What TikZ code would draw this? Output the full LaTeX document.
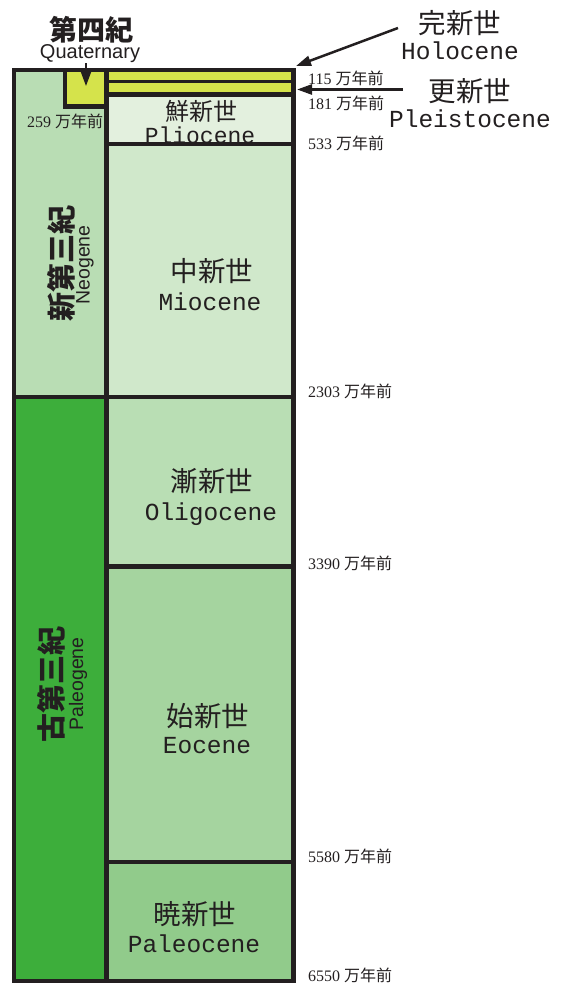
\documentclass[tikz,border=0pt]{standalone}
\usepackage{fontspec}
\setmainfont{Liberation Serif}
\setsansfont{Liberation Sans}
\newfontfamily\cjkf{Noto Sans CJK JP}
\newfontfamily\monofnt{Liberation Mono}
\usetikzlibrary{arrows.meta}
\definecolor{ink}{HTML}{231F20}
\definecolor{cQua}{HTML}{D5E34B}
\definecolor{cPlio}{HTML}{E3F0DE}
\definecolor{cMio}{HTML}{D0E8CB}
\definecolor{cOli}{HTML}{B9DEB4}
\definecolor{cEo}{HTML}{A5D49F}
\definecolor{cPaleo}{HTML}{91CB8B}
\definecolor{cNeo}{HTML}{B9DDB4}
\definecolor{cPaleog}{HTML}{3DAE3B}
\newcommand\wnq{{\cjkf 万年前}}
\tikzset{
  jp/.style={font=\cjkf\fontsize{27.5}{27.5}\selectfont, text=ink, inner sep=0pt, anchor=base},
  en/.style={font=\monofnt\fontsize{24.5}{24.5}\selectfont, text=ink, inner sep=0pt, anchor=base},
  age/.style={font=\fontsize{16}{16}\selectfont, text=ink, inner sep=0pt, anchor=base west},
  period/.style={font=\cjkf\bfseries\fontsize{29}{29}\selectfont, text=ink, inner sep=0pt, rotate=90},
  perioden/.style={font=\sffamily\fontsize{19.5}{19.5}\selectfont, text=ink, inner sep=0pt, rotate=90},
  frame/.style={draw=ink, line width=4.5pt},
  thinframe/.style={draw=ink, line width=3pt},
  pointer/.style={draw=ink, line width=2.5pt, -{Triangle[length=15pt,width=10pt]}},
}
\begin{document}
\begin{tikzpicture}[x=1pt,y=-1pt]
\useasboundingbox (0,0) rectangle (568,984);
% fills
\fill[cNeo] (14,70) rectangle (106.5,397);
\fill[cPaleog] (14,397) rectangle (106.5,981);
\fill[cQua] (65,70) rectangle (106.5,106.5);
\fill[cQua] (106.5,70) rectangle (293.5,94.5);
\fill[cPlio] (106.5,94.5) rectangle (293.5,144);
\fill[cMio] (106.5,144) rectangle (293.5,397);
\fill[cOli] (106.5,397) rectangle (293.5,566.5);
\fill[cEo] (106.5,566.5) rectangle (293.5,862);
\fill[cPaleo] (106.5,862) rectangle (293.5,981);
% epoch labels
\node[jp, font=\cjkf\fontsize{24}{24}\selectfont] (plioj) at (201,121) {鮮新世};
\node[en, font=\monofnt\fontsize{23}{23}\selectfont] (plioe) at (200,144) {Pliocene};
\node[jp] (mioj) at (212,281) {中新世};
\node[en] (mioe) at (210,310) {Miocene};
\node[jp] (olij) at (212,491) {漸新世};
\node[en] (olie) at (211,520) {Oligocene};
\node[jp] (eoj) at (208,726) {始新世};
\node[en] (eoe) at (207,753) {Eocene};
\node[jp] (paj) at (195,924) {暁新世};
\node[en] (pae) at (194,952) {Paleocene};
% period labels
\node[period] (neoj) at (61,263) {新第三紀};
\node[perioden] (neoe) at (85,265) {Neogene};
\node[period] (palj) at (51.5,684) {古第三紀};
\node[perioden] (pale) at (78,684) {Paleogene};
% lines
\draw[frame] (14,70) rectangle (293.5,981);
\draw[frame] (106.5,70) -- (106.5,981);
\draw[frame] (14,397) -- (293.5,397);
\draw[frame] (65,70) -- (65,106.5) -- (106.5,106.5);
\draw[thinframe] (106.5,82) -- (293.5,82);
\draw[frame] (106.5,94.5) -- (293.5,94.5);
\draw[frame] (106.5,144) -- (293.5,144);
\draw[frame] (106.5,566.5) -- (293.5,566.5);
\draw[frame] (106.5,862) -- (293.5,862);
% Quaternary
\node[font=\cjkf\bfseries\fontsize{28}{28}\selectfont, text=ink, inner sep=0pt] (quaj) at (91,30) {第四紀};
\node[font=\sffamily\fontsize{20}{20}\selectfont, text=ink, inner sep=0pt, anchor=base] (quae) at (90,59) {Quaternary};
\coordinate (quaT) at (86,86);
\draw[ink, line width=1.5pt, -{Triangle[length=14pt,width=10pt]}] (quae.south -| quaT) -- (quaT);
% Holocene / Pleistocene
\node[jp] (holj) at (460,34) {完新世};
\node[en] (hole) at (460,60) {Holocene};
\node[jp] (plej) at (470,102) {更新世};
\node[en] (plee) at (470,128) {Pleistocene};
\coordinate (holS) at (398,28);
\coordinate (holT) at (296,66);
\coordinate (pleS) at (403,89.5);
\coordinate (pleT) at (297,89.5);
\draw[pointer] (holS) -- (holT);
\draw[pointer] (pleS) -- (pleT);
% ages
\node[age] (a259) at (27,128) {259 \wnq};
\node[age] (a115) at (308,85) {115 \wnq};
\node[age] (a181) at (308,110) {181 \wnq};
\node[age] (a533) at (308,150) {533 \wnq};
\node[age] (a2303) at (308,397) {2303 \wnq};
\node[age] (a3390) at (308,569) {3390 \wnq};
\node[age] (a5580) at (308,862) {5580 \wnq};
\node[age] (a6550) at (308,981) {6550 \wnq};
\end{tikzpicture}
\end{document}
